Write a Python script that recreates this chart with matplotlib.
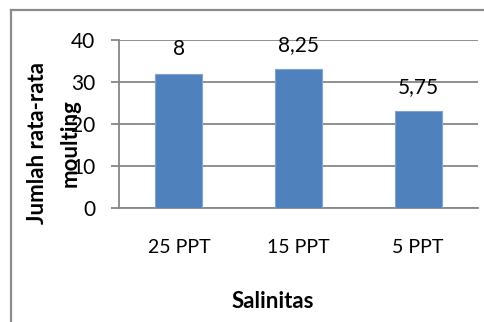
import matplotlib
matplotlib.use('Agg')
import matplotlib.pyplot as plt
from matplotlib.lines import Line2D

plt.rcParams['font.family'] = ['Lato', 'DejaVu Sans']

categories = ['25 PPT', '15 PPT', '5 PPT']
values = [32, 33, 23]
labels = ['8', '8,25', '5,75']

fig = plt.figure(figsize=(4.85, 3.22), dpi=100)
ax = fig.add_axes([0.2454, 0.354, 0.7402, 0.5217])

x = range(len(categories))
ax.bar(x, values, width=0.395, color='#4F81BD', edgecolor='#7FA3D3', linewidth=0.8, zorder=3)

for xi, v, lab in zip(x, values, labels):
    ax.annotate(lab, (xi, v), xytext=(0, 17.5), textcoords='offset points',
                ha='center', va='center', fontsize=15, color='black', zorder=4)

ax.set_xlim(-0.5, 2.5)
ax.set_ylim(0, 40)
ax.set_yticks([0, 10, 20, 30, 40])
ax.yaxis.grid(True, color='#868686', linewidth=1.3, zorder=0)
ax.set_xticks(list(x))
ax.set_xticklabels(categories)
ax.tick_params(axis='x', length=0, pad=22, labelsize=14)
ax.tick_params(axis='y', length=6, width=1.3, color='#868686', pad=11, labelsize=15)

for s in ['top', 'right']:
    ax.spines[s].set_visible(False)
for s in ['left', 'bottom']:
    ax.spines[s].set_color('#868686')
    ax.spines[s].set_linewidth(1.3)

fig.text(38 / 485, 1 - 143 / 322, 'Jumlah rata-rata', rotation=90, ha='center', va='center',
         fontsize=16, fontweight='bold')
fig.text(70 / 485, 1 - 143 / 322, 'moulting', rotation=90, ha='center', va='center',
         fontsize=16, fontweight='bold')
fig.text(273 / 485, 1 - 302 / 322, 'Salinitas', ha='center', va='center',
         fontsize=16, fontweight='bold')

# outer chart border (only left and top edges visible)
fig.add_artist(Line2D([11.5 / 485, 11.5 / 485], [-0.1, 1 - 9.5 / 322], transform=fig.transFigure,
                      color='#8c8c8c', linewidth=1.6))
fig.add_artist(Line2D([11.5 / 485, 1.1], [1 - 9.5 / 322, 1 - 9.5 / 322], transform=fig.transFigure,
                      color='#8c8c8c', linewidth=1.6))

fig.savefig('out.png', dpi=100)
